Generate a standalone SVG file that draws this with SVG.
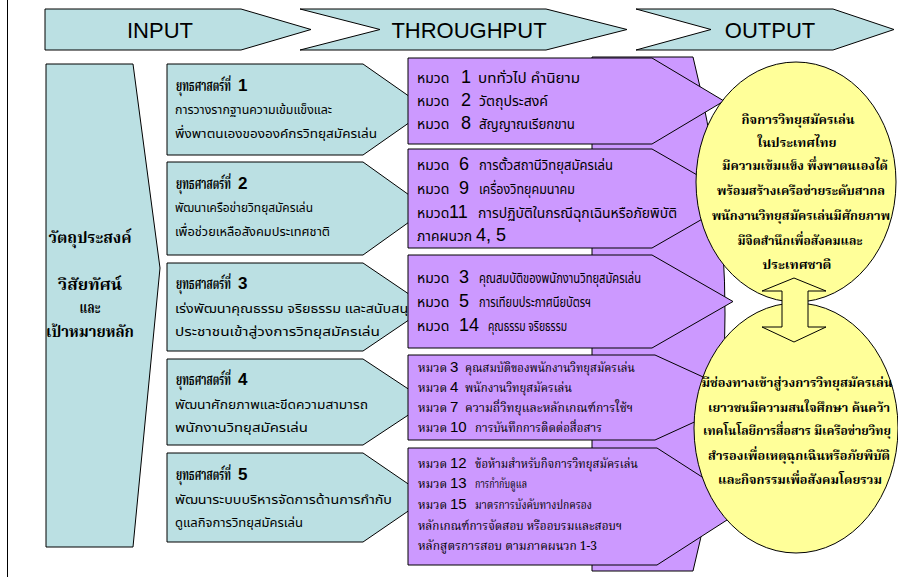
<svg xmlns="http://www.w3.org/2000/svg" width="898" height="577" viewBox="0 0 898 577">
<style>
.teal{fill:#BBE0E3;stroke:#000;stroke-width:1}
.purple{fill:#CC99FF;stroke:#000;stroke-width:1}
.yellow{fill:#FFFF99;stroke:#000;stroke-width:1}
.hdr{font-family:'Liberation Sans',Arial,sans-serif;font-size:22px;fill:#000;text-anchor:middle}
.th{font-family:'Noto Sans Thai','Noto Sans','DejaVu Sans',sans-serif;font-size:13px;fill:#000}
.thp{font-family:'Noto Sans Thai','Noto Sans','DejaVu Sans',sans-serif;font-size:14px;fill:#000}
.ths{font-family:'Noto Serif Thai','Liberation Serif',serif;font-size:12px;fill:#000}
.thb{font-family:'Noto Serif Thai','Liberation Serif',serif;font-size:15px;font-weight:bold;fill:#000}
.big{font-family:'Noto Serif Thai','Liberation Serif',serif;font-size:16px;font-weight:bold;fill:#000;text-anchor:middle}
.ctr{font-family:'Noto Serif Thai','Liberation Serif',serif;font-size:13px;font-weight:bold;fill:#000;text-anchor:middle}
.n{font-family:'Liberation Sans',Arial,sans-serif;font-size:18px;fill:#000}
.nb{font-family:'Liberation Sans',Arial,sans-serif;font-size:17px;font-weight:bold;fill:#000}
.ns{font-family:'Liberation Sans',Arial,sans-serif;font-size:15px;fill:#000}
</style>
<line x1="7.5" y1="0" x2="7.5" y2="577" stroke="#000" stroke-width="1"/>
<g id="header">
<g id="hdr-input"><polygon class="teal" points="45,9 241,9 311,29.5 241,50 45,50"/><text class="hdr" x="160" y="38">INPUT</text></g>
<g id="hdr-throughput"><polygon class="teal" points="300,9 546,9 627,29.5 546,50 300,50 380,29.5"/><text class="hdr" x="469" y="38">THROUGHPUT</text></g>
<g id="hdr-output"><polygon class="teal" points="636,9 833,9 894,29.5 833,50 636,50 711,29.5"/><text class="hdr" x="770" y="38">OUTPUT</text></g>
</g>
<g id="objectives">
<polygon class="teal" points="46,64 133,64 160,268 133,547 46,547"/>
<text class="big" x="90" y="243" textLength="83" lengthAdjust="spacingAndGlyphs">วัตถุประสงค์</text>
<text class="big" x="90" y="290" textLength="64" lengthAdjust="spacingAndGlyphs">วิสัยทัศน์</text>
<text class="big" x="90" y="313" textLength="21" lengthAdjust="spacingAndGlyphs">และ</text>
<text class="big" x="90" y="337" textLength="88" lengthAdjust="spacingAndGlyphs">เป้าหมายหลัก</text>
</g>
<g id="strategy1"><polygon class="teal" points="167,64 363,64 428,109.5 363,155 167,155"/>
<text class="thb" x="176" y="91"><tspan textLength="55" lengthAdjust="spacingAndGlyphs">ยุทธศาสตร์ที่</tspan><tspan class="nb" x="238">1</tspan></text>
<text class="th" x="175" y="114" textLength="157" lengthAdjust="spacingAndGlyphs">การวางรากฐานความเข้มแข็งและ</text>
<text class="th" x="175" y="138" textLength="202" lengthAdjust="spacingAndGlyphs">พึ่งพาตนเองขององค์กรวิทยุสมัครเล่น</text></g>
<g id="strategy2"><polygon class="teal" points="167,162 363,162 428,208.5 363,255 167,255"/>
<text class="thb" x="176" y="189"><tspan textLength="55" lengthAdjust="spacingAndGlyphs">ยุทธศาสตร์ที่</tspan><tspan class="nb" x="238">2</tspan></text>
<text class="th" x="175" y="212" textLength="138" lengthAdjust="spacingAndGlyphs">พัฒนาเครือข่ายวิทยุสมัครเล่น</text>
<text class="th" x="175" y="236" textLength="155" lengthAdjust="spacingAndGlyphs">เพื่อช่วยเหลือสังคมประเทศชาติ</text></g>
<g id="strategy3"><polygon class="teal" points="167,263 363,263 428,307 363,351 167,351"/>
<text class="thb" x="176" y="289"><tspan textLength="55" lengthAdjust="spacingAndGlyphs">ยุทธศาสตร์ที่</tspan><tspan class="nb" x="238">3</tspan></text>
<text class="th" x="175" y="313" textLength="242" lengthAdjust="spacingAndGlyphs">เร่งพัฒนาคุณธรรม จริยธรรม และสนับสนุน</text>
<text class="th" x="175" y="336" textLength="205" lengthAdjust="spacingAndGlyphs">ประชาชนเข้าสู่วงการวิทยุสมัครเล่น</text></g>
<g id="strategy4"><polygon class="teal" points="167,359 363,359 428,402 363,445 167,445"/>
<text class="thb" x="176" y="385"><tspan textLength="55" lengthAdjust="spacingAndGlyphs">ยุทธศาสตร์ที่</tspan><tspan class="nb" x="238">4</tspan></text>
<text class="th" x="175" y="409" textLength="193" lengthAdjust="spacingAndGlyphs">พัฒนาศักยภาพและขีดความสามารถ</text>
<text class="th" x="175" y="432" textLength="133" lengthAdjust="spacingAndGlyphs">พนักงานวิทยุสมัครเล่น</text></g>
<g id="strategy5"><polygon class="teal" points="167,453 363,453 428,497.5 363,542 167,542"/>
<text class="thb" x="176" y="480"><tspan textLength="55" lengthAdjust="spacingAndGlyphs">ยุทธศาสตร์ที่</tspan><tspan class="nb" x="238">5</tspan></text>
<text class="th" x="175" y="504" textLength="217" lengthAdjust="spacingAndGlyphs">พัฒนาระบบบริหารจัดการด้านการกำกับ</text>
<text class="th" x="175" y="527" textLength="128" lengthAdjust="spacingAndGlyphs">ดูแลกิจการวิทยุสมัครเล่น</text></g>
<g id="chapters-bg"><path class="purple" d="M592,57 L693,57 Q757,314 693,571 L592,571 Z"/></g>
<g id="chapters1"><polygon class="purple" points="408,58 652,58 724,101 652,144 408,144"/>
<text class="thp" x="417" y="83">หมวด</text><text class="n" x="461" y="83">1</text><text class="thp" x="478" y="83" textLength="102" lengthAdjust="spacingAndGlyphs">บททั่วไป คำนิยาม</text>
<text class="thp" x="417" y="106">หมวด</text><text class="n" x="461" y="106">2</text><text class="thp" x="479" y="106" textLength="69" lengthAdjust="spacingAndGlyphs">วัตถุประสงค์</text>
<text class="thp" x="417" y="129">หมวด</text><text class="n" x="461" y="129">8</text><text class="thp" x="479" y="129" textLength="96" lengthAdjust="spacingAndGlyphs">สัญญาณเรียกขาน</text></g>
<g id="chapters2"><polygon class="purple" points="408,149 652,149 738,198.5 652,248 408,248"/>
<text class="thp" x="417" y="170">หมวด</text><text class="n" x="459" y="170">6</text><text class="thp" x="479" y="170" textLength="134" lengthAdjust="spacingAndGlyphs">การตั้วสถานีวิทยุสมัครเล่น</text>
<text class="thp" x="417" y="194">หมวด</text><text class="n" x="459" y="194">9</text><text class="thp" x="479" y="194" textLength="96" lengthAdjust="spacingAndGlyphs">เครื่องวิทยุคมนาคม</text>
<text class="thp" x="417" y="218">หมวด</text><text class="n" x="449" y="218">11</text><text class="thp" x="478" y="218" textLength="199" lengthAdjust="spacingAndGlyphs">การปฏิบัติในกรณีฉุกเฉินหรือภัยพิบัติ</text>
<text class="thp" x="417" y="241" textLength="55" lengthAdjust="spacingAndGlyphs">ภาคผนวก</text><text class="n" x="476" y="241">4, 5</text></g>
<g id="chapters3"><polygon class="purple" points="408,255 652,255 733,301.5 652,348 408,348"/>
<text class="thp" x="417" y="283">หมวด</text><text class="n" x="459" y="283">3</text><text class="thp" x="479" y="283" textLength="162" lengthAdjust="spacingAndGlyphs">คุณสมบัติของพนักงานวิทยุสมัครเล่น</text>
<text class="thp" x="417" y="307">หมวด</text><text class="n" x="459" y="307">5</text><text class="thp" x="479" y="307" textLength="112" lengthAdjust="spacingAndGlyphs">การเทียบประกาศนียบัตรฯ</text>
<text class="thp" x="417" y="331">หมวด</text><text class="n" x="459" y="331">14</text><text class="thp" x="488" y="331" textLength="79" lengthAdjust="spacingAndGlyphs">คุณธรรม จริยธรรม</text></g>
<g id="chapters4"><polygon class="purple" points="408,355 655,355 748,397.5 655,440 408,440"/>
<text class="ths" x="418" y="372" textLength="29" lengthAdjust="spacingAndGlyphs">หมวด</text><text class="ns" x="450" y="372">3</text><text class="ths" x="465" y="372" textLength="170" lengthAdjust="spacingAndGlyphs">คุณสมบัติของพนักงานวิทยุสมัครเล่น</text>
<text class="ths" x="418" y="392" textLength="29" lengthAdjust="spacingAndGlyphs">หมวด</text><text class="ns" x="450" y="392">4</text><text class="ths" x="465" y="392" textLength="107" lengthAdjust="spacingAndGlyphs">พนักงานวิทยุสมัครเล่น</text>
<text class="ths" x="418" y="412" textLength="29" lengthAdjust="spacingAndGlyphs">หมวด</text><text class="ns" x="450" y="412">7</text><text class="ths" x="465" y="412" textLength="168" lengthAdjust="spacingAndGlyphs">ความถี่วิทยุและหลักเกณฑ์การใช้ฯ</text>
<text class="ths" x="418" y="432" textLength="29" lengthAdjust="spacingAndGlyphs">หมวด</text><text class="ns" x="450" y="432">10</text><text class="ths" x="475" y="432" textLength="127" lengthAdjust="spacingAndGlyphs">การบันทึกการติดต่อสื่อสาร</text></g>
<g id="chapters5"><polygon class="purple" points="408,448 657,448 748,506.5 657,565 408,565"/>
<text class="ths" x="418" y="468" textLength="29" lengthAdjust="spacingAndGlyphs">หมวด</text><text class="ns" x="450" y="468">12</text><text class="ths" x="475" y="468" textLength="163" lengthAdjust="spacingAndGlyphs">ข้อห้ามสำหรับกิจการวิทยุสมัครเล่น</text>
<text class="ths" x="418" y="488" textLength="29" lengthAdjust="spacingAndGlyphs">หมวด</text><text class="ns" x="450" y="488">13</text><text class="ths" x="475" y="488" textLength="52" lengthAdjust="spacingAndGlyphs">การกำกับดูแล</text>
<text class="ths" x="418" y="509" textLength="29" lengthAdjust="spacingAndGlyphs">หมวด</text><text class="ns" x="450" y="509">15</text><text class="ths" x="475" y="509" textLength="117" lengthAdjust="spacingAndGlyphs">มาตรการบังคับทางปกครอง</text>
<text class="ths" x="418" y="530" textLength="204" lengthAdjust="spacingAndGlyphs">หลักเกณฑ์การจัดสอบ หรืออบรมและสอบฯ</text>
<text class="ths" x="418" y="550" textLength="179" lengthAdjust="spacingAndGlyphs">หลักสูตรการสอบ ตามภาคผนวก 1-3</text></g>
<g id="outcome1"><ellipse class="yellow" cx="796" cy="182" rx="100" ry="120"/>
<text class="ctr" x="798" y="124" textLength="113" lengthAdjust="spacingAndGlyphs">กิจการวิทยุสมัครเล่น</text>
<text class="ctr" x="797" y="147" textLength="79" lengthAdjust="spacingAndGlyphs">ในประเทศไทย</text>
<text class="ctr" x="805" y="170" textLength="166" lengthAdjust="spacingAndGlyphs">มีความเข้มแข็ง พึ่งพาตนเองได้</text>
<text class="ctr" x="801" y="195" textLength="168" lengthAdjust="spacingAndGlyphs">พร้อมสร้างเครือข่ายระดับสากล</text>
<text class="ctr" x="801" y="220" textLength="178" lengthAdjust="spacingAndGlyphs">พนักงานวิทยุสมัครเล่นมีศักยภาพ</text>
<text class="ctr" x="800" y="245" textLength="125" lengthAdjust="spacingAndGlyphs">มีจิตสำนึกเพื่อสังคมและ</text>
<text class="ctr" x="797" y="269" textLength="69" lengthAdjust="spacingAndGlyphs">ประเทศชาติ</text></g>
<g id="outcome2"><ellipse class="yellow" cx="796" cy="428" rx="102" ry="125"/>
<text class="ctr" x="797" y="387" textLength="191" lengthAdjust="spacingAndGlyphs">มีช่องทางเข้าสู่วงการวิทยุสมัครเล่น</text>
<text class="ctr" x="799" y="412" textLength="182" lengthAdjust="spacingAndGlyphs">เยาวชนมีความสนใจศึกษา ค้นคว้า</text>
<text class="ctr" x="797" y="435" textLength="188" lengthAdjust="spacingAndGlyphs">เทคโนโลยีการสื่อสาร มีเครือข่ายวิทยุ</text>
<text class="ctr" x="799" y="460" textLength="182" lengthAdjust="spacingAndGlyphs">สำรองเพื่อเหตุฉุกเฉินหรือภัยพิบัติ</text>
<text class="ctr" x="800" y="484" textLength="164" lengthAdjust="spacingAndGlyphs">และกิจกรรมเพื่อสังคมโดยรวม</text></g>
<g id="connectors"><polygon class="yellow" points="794,278 826,291 808,291 808,327 826,327 794,342 762,327 782,327 782,291 762,291"/></g>
</svg>
